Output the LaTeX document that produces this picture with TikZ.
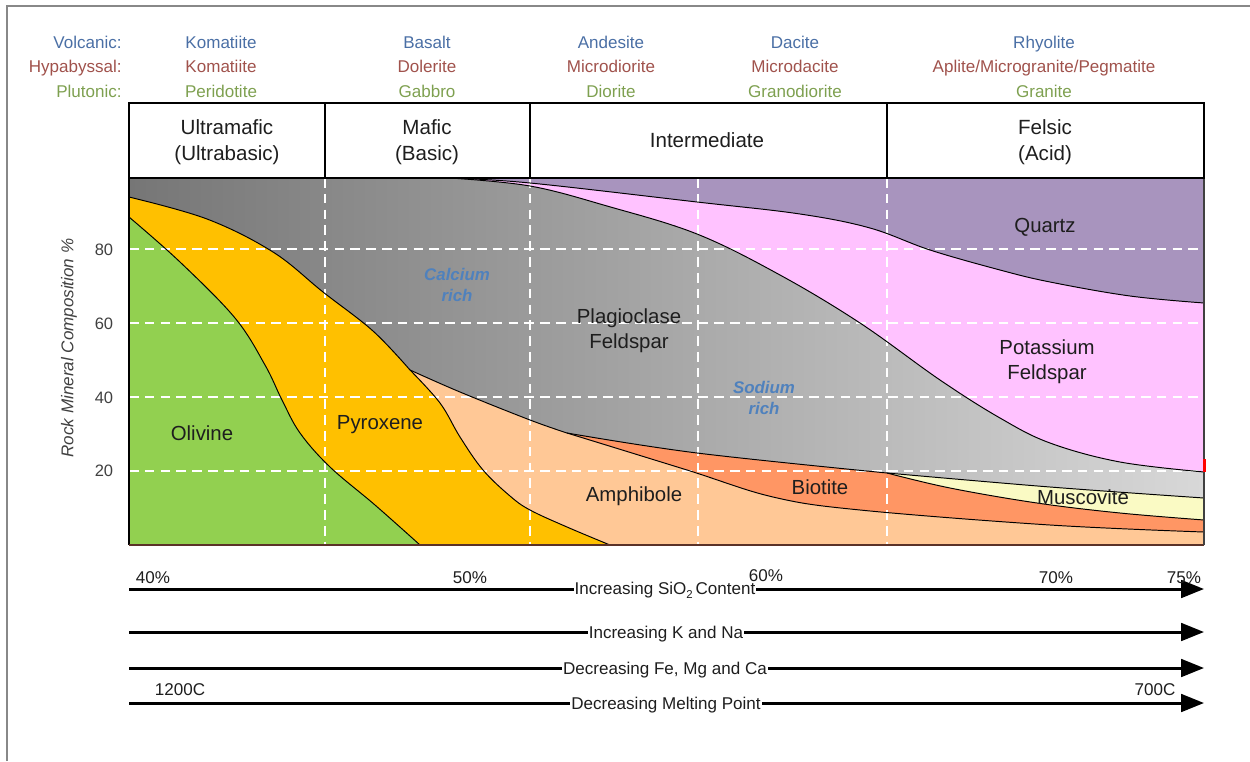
\documentclass[tikz,border=0pt]{standalone}
\usepackage{fontspec}
\setmainfont{Liberation Sans}
\usetikzlibrary{arrows.meta}
\definecolor{volc}{RGB}{74,111,165}
\definecolor{hypa}{RGB}{160,82,76}
\definecolor{pluto}{RGB}{126,160,80}
\definecolor{txt}{RGB}{30,30,30}
\definecolor{bgL}{RGB}{118,118,118}
\definecolor{bgR}{RGB}{216,216,216}
\definecolor{kfc}{RGB}{255,194,255}
\definecolor{qzc}{RGB}{168,148,190}
\definecolor{musc}{RGB}{250,250,196}
\definecolor{bioc}{RGB}{255,150,100}
\definecolor{amphc}{RGB}{255,200,150}
\definecolor{pyxc}{RGB}{255,192,0}
\definecolor{olic}{RGB}{146,208,80}
\definecolor{richc}{RGB}{79,129,189}
\definecolor{framec}{RGB}{136,136,136}
\definecolor{botc}{RGB}{90,50,40}
\def\bndA{-- plot[smooth,tension=0.6] coordinates {(129,197) (207,219) (273,252) (323,292) (373,331) (410,370)}}
\def\bndB{-- plot[smooth,tension=0.6] coordinates {(410,370) (460,392) (530,420) (567,433)}}
\def\bndC{-- plot[smooth,tension=0.6] coordinates {(567,433) (697,453) (887,473)}}
\def\bndD{-- plot[smooth,tension=0.6] coordinates {(887,473) (1050,487) (1204,498)}}
\def\bndE{-- plot[smooth,tension=0.6] coordinates {(887,473) (950,488) (1037,503) (1120,513) (1204,520)}}
\def\bndF{-- plot[smooth,tension=0.6] coordinates {(567,433) (687,470) (773,497) (860,510) (1050,525) (1204,532)}}
\def\bndG{-- plot[smooth,tension=0.6] coordinates {(410,370) (440,403) (460,437) (483,470) (510,496) (530,510) (567,527) (610,545)}}
\def\bndH{-- plot[smooth,tension=0.6] coordinates {(129,217) (180,262) (235,318) (265,365) (282,400) (300,433) (330,467) (375,505) (420,545)}}
\def\bndQ{-- plot[smooth,tension=0.6] coordinates {(450,178) (530,183) (697,202) (800,214) (870,228) (930,250) (1000,270) (1050,282) (1130,296) (1204,303)}}
\def\bndK{-- plot[smooth,tension=0.6] coordinates {(450,178) (530,186) (607,206) (697,234) (780,275) (860,323) (940,380) (1000,418) (1050,443) (1120,462) (1204,472)}}
\begin{document}
\begin{tikzpicture}[x=0.02cm,y=-0.02cm,
  toplab/.style={font=\fontsize{9.7}{11.6}\selectfont, inner sep=0pt, anchor=base},
  hdr/.style={font=\fontsize{11.7}{15}\selectfont, text=txt, align=center, inner sep=0pt},
  mlab/.style={font=\fontsize{11.6}{14.2}\selectfont, text=txt, align=center, inner sep=0pt},
  rich/.style={font=\fontsize{9.6}{12}\selectfont\bfseries\itshape, text=richc, align=center, inner sep=0pt},
  tick/.style={font=\fontsize{9.4}{11}\selectfont, text=txt!85, inner sep=0pt},
  bnd/.style={draw=black, line width=0.55pt},
  grid/.style={draw=white, line width=0.8pt, dash pattern=on 5.5pt off 3.5pt},
  arr/.style={line width=1.7pt, -{Triangle[length=13pt,width=10pt]}},
  arrlab/.style={font=\fontsize{9.7}{11.6}\selectfont, fill=white, inner xsep=0.6pt, inner ysep=1pt, text=txt},
  sclab/.style={font=\fontsize{9.7}{11.6}\selectfont, text=txt, inner sep=0pt}
]
\useasboundingbox (0,0) rectangle (1250,761);
% outer frame
\draw[framec, line width=1.2pt] (7,761) -- (7,6) -- (1250,6);
% rock name labels
\node[toplab, text=volc, anchor=base east] (vl) at (122,48) {Volcanic:};
\node[toplab, text=hypa, anchor=base east] (hl) at (122,72) {Hypabyssal:};
\node[toplab, text=pluto, anchor=base east] (pl) at (122,97) {Plutonic:};
\node[toplab, text=volc] (v1) at (221,48) {Komatiite};
\node[toplab, text=hypa] (h1) at (221,72) {Komatiite};
\node[toplab, text=pluto] (p1) at (221,97) {Peridotite};
\node[toplab, text=volc] (v2) at (427,48) {Basalt};
\node[toplab, text=hypa] (h2) at (427,72) {Dolerite};
\node[toplab, text=pluto] (p2) at (427,97) {Gabbro};
\node[toplab, text=volc] (v3) at (611,48) {Andesite};
\node[toplab, text=hypa] (h3) at (611,72) {Microdiorite};
\node[toplab, text=pluto] (p3) at (611,97) {Diorite};
\node[toplab, text=volc] (v4) at (795,48) {Dacite};
\node[toplab, text=hypa] (h4) at (795,72) {Microdacite};
\node[toplab, text=pluto] (p4) at (795,97) {Granodiorite};
\node[toplab, text=volc] (v5) at (1044,48) {Rhyolite};
\node[toplab, text=hypa] (h5) at (1044,72) {Aplite/Microgranite/Pegmatite};
\node[toplab, text=pluto] (p5) at (1044,97) {Granite};
% chart background
\shade[left color=bgL, right color=bgR] (129,178) rectangle (1204,545);
% mineral fields
\fill[kfc] (450,178) \bndK -- (1204,178) -- cycle;
\fill[qzc] (450,178) \bndQ -- (1204,178) -- cycle;
\fill[musc] (887,473) \bndD -- (1204,545) -- (887,545) -- cycle;
\fill[bioc] (567,433) \bndC \bndE -- (1204,545) -- (567,545) -- cycle;
\fill[amphc] (410,370) \bndB \bndF -- (1204,545) -- (410,545) -- cycle;
\fill[pyxc] (129,197) \bndA \bndG -- (129,545) -- cycle;
\fill[olic] (129,217) \bndH -- (129,545) -- cycle;
% grid
\foreach \yy in {249,323,397,471} \draw[grid] (129,\yy) -- (1204,\yy);
\foreach \xx in {325,530,698,887} \draw[grid] (\xx,178) -- (\xx,545);
% boundaries
\draw[bnd] (129,197) \bndA; \draw[bnd] (410,370) \bndB; \draw[bnd] (567,433) \bndC; \draw[bnd] (887,473) \bndD;
\draw[bnd] (887,473) \bndE; \draw[bnd] (567,433) \bndF; \draw[bnd] (410,370) \bndG; \draw[bnd] (129,217) \bndH;
\draw[bnd] (450,178) \bndQ; \draw[bnd] (450,178) \bndK;
% chart borders
\draw[black, line width=0.8pt] (129,178) -- (129,545);
\draw[botc, line width=1pt] (129,545) -- (1204,545);
\draw[black!75, line width=0.8pt] (1204,178) -- (1204,545);
\draw[red, line width=1.2pt] (1204.5,459) -- (1204.5,472);
% header boxes
\draw[black, line width=0.85pt, fill=white] (129,103) rectangle (1204,178);
\foreach \xx in {325,530,887} \draw[black, line width=0.85pt] (\xx,103) -- (\xx,178);
\node[hdr] (hu) at (227,142) {Ultramafic\\(Ultrabasic)};
\node[hdr] (hm) at (427,142) {Mafic\\(Basic)};
\node[hdr, anchor=base] (hi) at (707,147) {Intermediate};
\node[hdr] (hf) at (1045,142) {Felsic\\(Acid)};
% mineral labels
\node[mlab, anchor=base] (lo) at (202,440) {Olivine};
\node[mlab, anchor=base] (lp) at (380,429) {Pyroxene};
\node[rich] (lca) at (457,285) {Calcium\\rich};
\node[mlab] (lpl) at (629,331) {Plagioclase\\Feldspar};
\node[rich] (lna) at (764,398) {Sodium\\rich};
\node[mlab, anchor=base] (lam) at (634,501) {Amphibole};
\node[mlab, anchor=base] (lbi) at (820,494) {Biotite};
\node[mlab, anchor=base] (lmu) at (1083,504) {Muscovite};
\node[mlab, anchor=base] (lqz) at (1045,232) {Quartz};
\node[mlab] (lkf) at (1047,362) {Potassium\\Feldspar};
% y axis
\node[tick] (t80) at (104,250) {80};
\node[tick] (t60) at (104,324) {60};
\node[tick] (t40) at (104,398) {40};
\node[tick] (t20) at (104,471) {20};
\node[font=\fontsize{9.7}{11.6}\selectfont\itshape, text=txt!85, rotate=90, inner sep=0pt] (yt) at (69,348) {Rock Mineral Composition \%};
% bottom arrows
\coordinate (a1s) at (129,589); \coordinate (a1e) at (1204,589);
\coordinate (a2s) at (129,632); \coordinate (a2e) at (1204,632);
\coordinate (a3s) at (129,668); \coordinate (a3e) at (1204,668);
\coordinate (a4s) at (129,703); \coordinate (a4e) at (1204,703);
\draw[arr] (a1s) -- (a1e);
\draw[arr] (a2s) -- (a2e);
\draw[arr] (a3s) -- (a3e);
\draw[arr] (a4s) -- (a4e);
\node[arrlab] (al1) at (665,590) {Increasing SiO\raisebox{-0.45ex}{\fontsize{6.5}{7}\selectfont 2}\,Content};
\node[arrlab] (al2) at (666,634) {Increasing K and Na};
\node[arrlab] (al3) at (665,670) {Decreasing Fe, Mg and Ca};
\node[arrlab] (al4) at (666,705) {Decreasing Melting Point};
\node[sclab] (s40) at (153,578) {40\%};
\node[sclab] (s50) at (470,578) {50\%};
\node[sclab] (s60) at (766,576) {60\%};
\node[sclab] (s70) at (1056,578) {70\%};
\node[sclab] (s75) at (1184,578) {75\%};
\node[sclab] (t1200) at (180,690) {1200C};
\node[sclab] (t700) at (1155,690) {700C};
\end{tikzpicture}
\end{document}
